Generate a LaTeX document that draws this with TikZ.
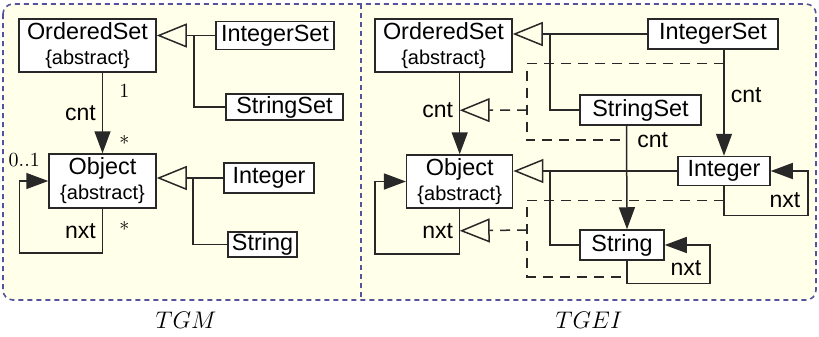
\documentclass[tikz,border=0pt]{standalone}
\usepackage{fontspec}
\setsansfont{Liberation Sans}
\usetikzlibrary{positioning,arrows.meta,calc}

\definecolor{panelfill}{RGB}{255,255,234}
\definecolor{framecol}{RGB}{84,84,156}
\definecolor{linecol}{RGB}{40,40,40}

\begin{document}
\begin{tikzpicture}[
    x=0.5pt, y=-0.5pt,
    cls/.style={draw=linecol, line width=0.75pt, fill=white, inner xsep=1pt, inner ysep=0.5pt, align=center, font=\sffamily\fontsize{11.7}{12.5}\selectfont},
    link/.style={draw=linecol, line width=0.75pt},
    gen/.style={link, -{Triangle[open, length=15pt, width=12pt]}},
    assoc/.style={link, -{Triangle[length=11pt, width=8pt]}},
    inh/.style={link, dash pattern=on 5pt off 3.5pt},
    inhgen/.style={inh, -{Triangle[open, length=15pt, width=12pt]}},
    lbl/.style={font=\sffamily\fontsize{11.5}{13}\selectfont, inner sep=1pt},
    mult/.style={font=\rmfamily\fontsize{10}{12}\selectfont, inner sep=1pt},
    frame/.style={draw=framecol, line width=0.8pt, dash pattern=on 2.5pt off 2pt},
    caption/.style={font=\fontsize{12}{14}\selectfont}
]
\useasboundingbox (0,0) rectangle (819,337);

% ===== Panels =====
\draw[frame, fill=panelfill, rounded corners=5pt] (3,4) rectangle (816,300);
\draw[frame] (361,4) -- (361,300);

% ===== TGM =====
\node[cls, minimum width=68.5pt, minimum height=26.5pt] (oset1) at (87.5,45.5) {OrderedSet\\{\fontsize{10}{12}\selectfont\{abstract\}}};
\node[cls, minimum width=59pt, minimum height=14pt] (iset1) at (275,35.5) {IntegerSet};
\node[cls, minimum width=58.5pt, minimum height=13pt] (sset1) at (284.5,107) {StringSet};
\node[cls, minimum width=53.5pt, minimum height=27pt] (obj1) at (102.5,181) {Object\\{\fontsize{10}{12}\selectfont\{abstract\}}};
\node[cls, minimum width=45pt, minimum height=15pt] (int1) at (269,178) {Integer};
\node[cls, minimum width=34.5pt, minimum height=12.5pt] (str1) at (262.5,244.5) {String};

% inheritance
\coordinate (j1) at (194,35.5);
\coordinate (j2) at (193,178);
\draw[gen] (iset1.west) -- (oset1.east |- iset1.west);
\draw[link] (sset1.west) -| (j1);
\draw[gen] (int1.west) -- (obj1.east |- int1.west);
\draw[link] (str1.west) -| (j2);

% cnt and nxt
\draw[assoc] (oset1.south -| obj1.north) -- node[lbl, left=2pt]{cnt}
    node[mult, pos=0.22, right=7pt]{1} node[mult, pos=0.87, right=7pt]{*} (obj1.north);
\draw[assoc] (obj1.south) -- node[lbl, left=2pt]{nxt} node[mult, pos=0.45, right=7pt]{*}
    ++(0,44) -| ($(obj1.west)+(-29,0)$) -- (obj1.west);
\node[mult] (m01) at ($(obj1.west)+(-24,-21)$) {0..1};

% ===== TGEI =====
\node[cls, minimum width=68.5pt, minimum height=26.5pt] (oset2) at (443.5,45.5) {OrderedSet\\{\fontsize{10}{12}\selectfont\{abstract\}}};
\node[cls, minimum width=65pt, minimum height=15pt] (iset2) at (713,34) {IntegerSet};
\node[cls, minimum width=60.5pt, minimum height=15pt] (sset2) at (640.5,110) {StringSet};
\node[cls, minimum width=53pt, minimum height=26.5pt] (obj2) at (459.7,181.5) {Object\\{\fontsize{10}{12}\selectfont\{abstract\}}};
\node[cls, minimum width=46pt, minimum height=14.5pt] (int2) at (724,171) {Integer};
\node[cls, minimum width=42pt, minimum height=15pt] (str2) at (622,245) {String};

% inheritance
\coordinate (j3) at (550,34);
\coordinate (j4) at (550,171);
\draw[gen] (iset2.west) -- (oset2.east |- iset2.west);
\draw[link] (sset2.west) -| (j3);
\draw[gen] (int2.west) -- (obj2.east |- int2.west);
\draw[link] (str2.west) -| (j4);

% cnt edges
\draw[assoc] (oset2.south -| obj2.north) -- node[lbl, left=2pt, pos=0.46]{cnt}
    coordinate[pos=0.46] (cnt2) (obj2.north);
\draw[assoc] (iset2.south -| int2.north) -- node[lbl, right=2pt, pos=0.43]{cnt}
    coordinate[pos=0.13] (cnti) (int2.north);
\draw[assoc] ([xshift=-7pt]sset2.south) -- node[lbl, right=4pt, pos=0.14]{cnt}
    coordinate[pos=0.14] (cnts) ([xshift=2.5pt]str2.north);

% nxt edges
\draw[assoc] (obj2.south) -- node[lbl, left=2pt]{nxt} coordinate[pos=0.49] (nxt2)
    ++(0,45) -| ($(obj2.west)+(-31,0)$) -- (obj2.west);
\draw[assoc] (int2.south) -- coordinate[pos=0.49] (nxti)
    ++(0,29) -| ($(int2.east)+(37,0)$) -- (int2.east);
\draw[assoc] ([xshift=2.5pt]str2.south) -- coordinate[pos=0.71] (nxts)
    ++(0,22.6) -| ($(str2.east)+(45,0)$) -- (str2.east);
\node[lbl] (nxtlbl1) at (785,200) {nxt};
\node[lbl] (nxtlbl2) at (686,268) {nxt};

% edge inheritance
\coordinate (k1) at (527,110);
\coordinate (k2) at (527,230);
\draw[inh] (cnti) -| (k1) |- (cnts);
\draw[inhgen] (k1) -- (cnt2);
\draw[inh] (nxti) -| (k2) |- (nxts);
\draw[inhgen] (k2) -- (nxt2);

% ===== Captions =====
\node[caption] (tgm) at (186,320) {$TGM$};
\node[caption] (tgei) at (589,320) {$TGEI$};

\end{tikzpicture}
\end{document}
